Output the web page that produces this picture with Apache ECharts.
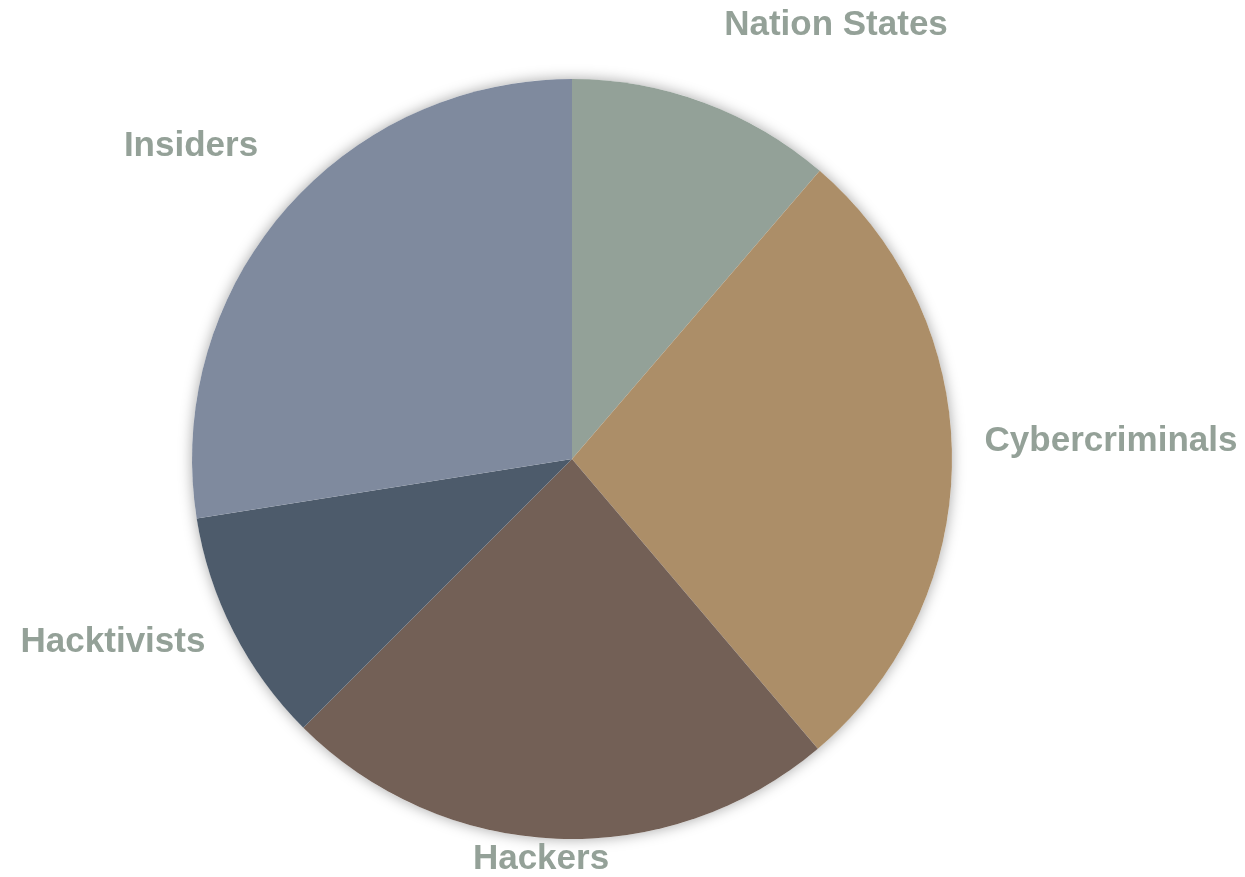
<!DOCTYPE html>
<html>
<head>
<meta charset="utf-8">
<title>Threat Actors</title>
<script src="https://cdn.jsdelivr.net/npm/echarts@6/dist/echarts.min.js"></script>
<style>
  html, body { margin: 0; padding: 0; background: #ffffff; }
  #chart { width: 1245px; height: 877px; }
</style>
</head>
<body>
<div id="chart"></div>
<script>
// Share of incidents by threat actor (percent)
const categories = ['Nation States', 'Cybercriminals', 'Hackers', 'Hacktivists', 'Insiders'];
const shares = [11.3, 27.5, 23.7, 10.0, 27.5];
const sliceColors = ['#93a198', '#ac8e68', '#736056', '#4d5b6b', '#7f8a9e'];

// Where each category name sits (label centre, px)
const labelSpots = {
  'Nation States': [836, 25],
  'Cybercriminals': [1111, 441],
  'Hackers': [541, 859],
  'Hacktivists': [113, 642],
  'Insiders': [191, 146]
};

const total = shares.reduce((a, b) => a + b, 0);
const pieCenter = [572, 459];
const pieRadius = 380;

const chart = echarts.init(document.getElementById('chart'), null, { renderer: 'canvas' });

chart.setOption({
  backgroundColor: '#ffffff',
  animation: false,
  series: [
    {
      // soft halo behind the whole pie
      type: 'pie',
      silent: true,
      z: 1,
      center: pieCenter,
      radius: pieRadius,
      label: { show: false },
      labelLine: { show: false },
      itemStyle: {
        color: '#ffffff',
        shadowBlur: 14,
        shadowColor: 'rgba(0,0,0,0.35)'
      },
      data: [{ name: 'all', value: total }]
    },
    {
      type: 'pie',
      z: 2,
      center: pieCenter,
      radius: pieRadius,
      startAngle: 90,
      clockwise: true,
      avoidLabelOverlap: false,
      data: categories.map((name, i) => ({
        name: name,
        value: shares[i],
        itemStyle: { color: sliceColors[i] }
      })),
      label: {
        show: true,
        position: 'outside',
        formatter: '{b}',
        color: '#94a198',
        fontFamily: '"Liberation Sans", Arial, sans-serif',
        fontWeight: 'bold',
        fontSize: 35
      },
      labelLine: { show: false },
      labelLayout: function (params) {
        const name = categories[params.dataIndex];
        const spot = labelSpots[name];
        return {
          x: spot[0],
          y: spot[1],
          align: 'center',
          verticalAlign: 'middle'
        };
      }
    }
  ]
});
</script>
</body>
</html>
